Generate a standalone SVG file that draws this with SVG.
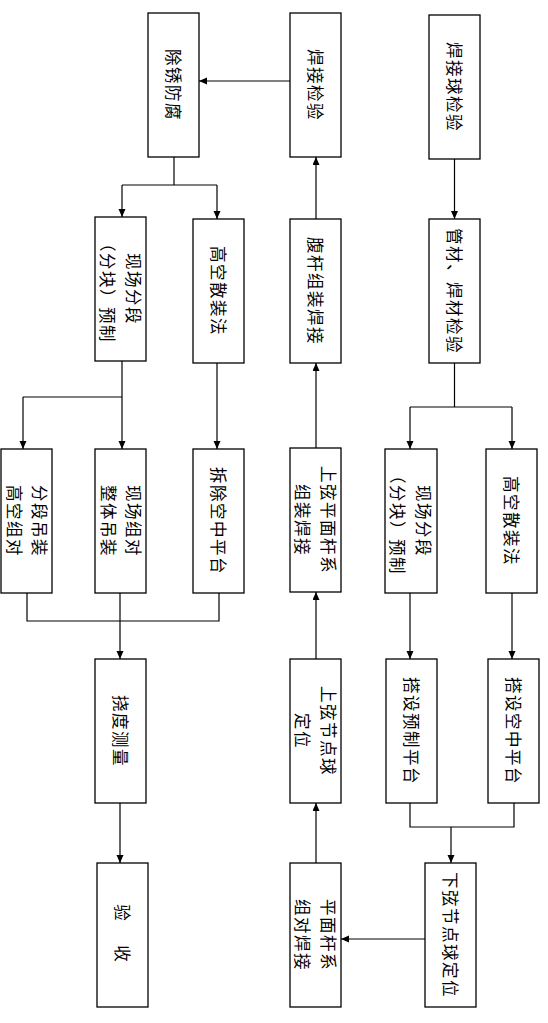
<svg xmlns="http://www.w3.org/2000/svg" width="548" height="1023" viewBox="0 0 548 1023">
<defs>
<marker id="arr" markerUnits="userSpaceOnUse" markerWidth="9" markerHeight="8" refX="8" refY="3.5" orient="auto">
<path d="M0,0 L8,3.5 L0,7 z" fill="#000"/>
</marker>
<style>
.box{fill:#fff;stroke:#000;stroke-width:1.3}
.t{font-family:"Noto Sans CJK SC","Noto Sans",sans-serif;font-size:16.5px;letter-spacing:1.5px;fill:#000;text-anchor:middle;dominant-baseline:central}
.c{fill:none;stroke:#000;stroke-width:1.2}
.a{marker-end:url(#arr)}
</style>
</defs>
<rect width="548" height="1023" fill="#fff"/>
<g id="connectors">
<line class="c a" x1="454.5" y1="159" x2="454.5" y2="219"/>
<polyline class="c" points="454.5,363 454.5,407"/>
<polyline class="c" points="410,407 512,407"/>
<line class="c a" x1="410" y1="407" x2="410" y2="449"/>
<line class="c a" x1="512" y1="407" x2="512" y2="449"/>
<line class="c a" x1="410" y1="593" x2="410" y2="659"/>
<line class="c a" x1="512" y1="593" x2="512" y2="659"/>
<polyline class="c" points="410,803 410,827 514,827 514,803"/>
<line class="c a" x1="451" y1="827" x2="451" y2="863"/>
<line class="c a" x1="425" y1="939" x2="341" y2="939"/>
<line class="c a" x1="316" y1="863" x2="316" y2="803"/>
<line class="c a" x1="316" y1="659" x2="316" y2="592"/>
<line class="c a" x1="316" y1="448" x2="316" y2="363"/>
<line class="c a" x1="316" y1="219" x2="316" y2="157"/>
<line class="c a" x1="290" y1="81" x2="199" y2="81"/>
<polyline class="c" points="174,157 174,185"/>
<polyline class="c" points="122,185 217,185"/>
<line class="c a" x1="217" y1="185" x2="217" y2="219"/>
<line class="c a" x1="122" y1="185" x2="122" y2="217"/>
<line class="c a" x1="122" y1="361" x2="122" y2="449"/>
<polyline class="c" points="23,397 122,397"/>
<line class="c a" x1="23" y1="397" x2="23" y2="449"/>
<line class="c a" x1="217" y1="363" x2="217" y2="449"/>
<polyline class="c" points="27,593 27,621 219,621 219,593"/>
<line class="c a" x1="120" y1="593" x2="120" y2="659"/>
<line class="c a" x1="120" y1="803" x2="120" y2="863"/>
</g>
<g id="n1"><rect class="box" x="429" y="15" width="51" height="144"/><g transform="translate(454.5,87) rotate(90)"><text class="t" x="0" y="0">焊接球检验</text></g></g>
<g id="n2"><rect class="box" x="429" y="219" width="51" height="144"/><g transform="translate(454.5,291) rotate(90)"><text class="t" x="0" y="0">管材、焊材检验</text></g></g>
<g id="n3"><rect class="box" x="385" y="449" width="52" height="144"/><g transform="translate(411,521) rotate(90)"><text class="t" x="0" y="-13">现场分段</text><text class="t" x="0" y="13">（分块）预制</text></g></g>
<g id="n4"><rect class="box" x="486" y="449" width="51" height="144"/><g transform="translate(511.5,521) rotate(90)"><text class="t" x="0" y="0">高空散装法</text></g></g>
<g id="n5"><rect class="box" x="386" y="659" width="51" height="144"/><g transform="translate(411.5,731) rotate(90)"><text class="t" x="0" y="0">搭设预制平台</text></g></g>
<g id="n6"><rect class="box" x="488" y="659" width="51" height="144"/><g transform="translate(513.5,731) rotate(90)"><text class="t" x="0" y="0">搭设空中平台</text></g></g>
<g id="n7"><rect class="box" x="425" y="863" width="51" height="144"/><g transform="translate(450.5,935) rotate(90)"><text class="t" x="0" y="0">下弦节点球定位</text></g></g>
<g id="n8"><rect class="box" x="290" y="863" width="51" height="144"/><g transform="translate(315.5,935) rotate(90)"><text class="t" x="0" y="-13">平面杆系</text><text class="t" x="0" y="13">组对焊接</text></g></g>
<g id="n9"><rect class="box" x="290" y="659" width="51" height="144"/><g transform="translate(315.5,731) rotate(90)"><text class="t" x="0" y="-13">上弦节点球</text><text class="t" x="0" y="13">定位</text></g></g>
<g id="n10"><rect class="box" x="290" y="448" width="51" height="144"/><g transform="translate(315.5,520) rotate(90)"><text class="t" x="0" y="-13">上弦平面杆系</text><text class="t" x="0" y="13">组装焊接</text></g></g>
<g id="n11"><rect class="box" x="290" y="219" width="51" height="144"/><g transform="translate(315.5,291) rotate(90)"><text class="t" x="0" y="0">腹杆组装焊接</text></g></g>
<g id="n12"><rect class="box" x="290" y="13" width="51" height="144"/><g transform="translate(315.5,85) rotate(90)"><text class="t" x="0" y="0">焊接检验</text></g></g>
<g id="n13"><rect class="box" x="148" y="13" width="51" height="144"/><g transform="translate(173.5,85) rotate(90)"><text class="t" x="0" y="0">除锈防腐</text></g></g>
<g id="n14"><rect class="box" x="193" y="219" width="51" height="144"/><g transform="translate(218.5,291) rotate(90)"><text class="t" x="0" y="0">高空散装法</text></g></g>
<g id="n15"><rect class="box" x="95" y="217" width="51" height="144"/><g transform="translate(120.5,289) rotate(90)"><text class="t" x="0" y="-13">现场分段</text><text class="t" x="0" y="13">（分块）预制</text></g></g>
<g id="n16"><rect class="box" x="1" y="449" width="51" height="144"/><g transform="translate(27,521) rotate(90)"><text class="t" x="0" y="-12.5">分段吊装</text><text class="t" x="0" y="12.5">高空组对</text></g></g>
<g id="n17"><rect class="box" x="95" y="449" width="51" height="144"/><g transform="translate(121,521) rotate(90)"><text class="t" x="0" y="-12.5">现场组对</text><text class="t" x="0" y="12.5">整体吊装</text></g></g>
<g id="n18"><rect class="box" x="193" y="449" width="51" height="144"/><g transform="translate(218.5,521) rotate(90)"><text class="t" x="0" y="0">拆除空中平台</text></g></g>
<g id="n19"><rect class="box" x="95" y="659" width="51" height="144"/><g transform="translate(120.5,731) rotate(90)"><text class="t" x="0" y="0">挠度测量</text></g></g>
<g id="n20"><rect class="box" x="97" y="863" width="51" height="144"/><g transform="translate(122.5,935) rotate(90)"><text class="t" x="0" y="0" style="letter-spacing:4px">验　收</text></g></g>
</svg>
